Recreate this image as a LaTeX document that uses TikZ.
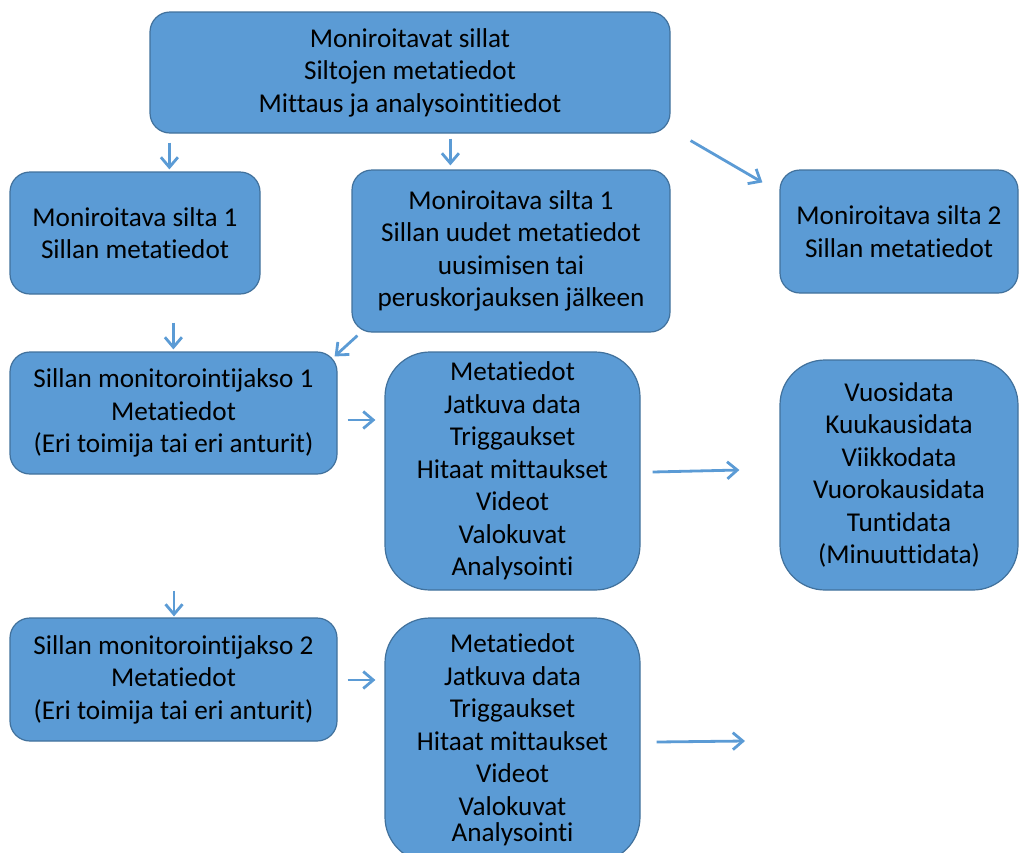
\documentclass[tikz,border=0pt]{standalone}
\usepackage{fontspec}
\setmainfont{Carlito}[Ligatures=NoCommon, RawFeature={-clig}]
\usetikzlibrary{arrows.meta,calc}
\definecolor{boxblue}{HTML}{5B9BD5}
\definecolor{boxedge}{HTML}{41719C}

\begin{document}
\begin{tikzpicture}[x=1pt,y=-1pt,
  box/.style={draw=boxedge, line width=1.2pt, fill=boxblue, rounded corners=20pt,
    align=center, inner sep=0pt, font=\fontsize{27.2}{32.5}\selectfont},
  tall/.style={box, rounded corners=45pt},
  arr/.style={draw=boxblue, line width=2.8pt,
    -{Straight Barb[length=10pt,width=17pt,line width=2.8pt]}}]

\useasboundingbox (0,0) rectangle (1020,852);
\clip (0,0) rectangle (1020,852);

% boxes
\node[box, minimum width=520pt, minimum height=121pt] (top) at (410,72.5)
  {Moniroitavat sillat\\Siltojen metatiedot\\Mittaus ja analysointitiedot};
\node[box, minimum width=250pt, minimum height=122pt] (s1) at (135,233)
  {Moniroitava silta 1\\Sillan metatiedot};
\node[box, minimum width=318pt, minimum height=162pt] (s1n) at (511,251)
  {Moniroitava silta 1\\Sillan uudet metatiedot\\uusimisen tai\\peruskorjauksen jälkeen};
\node[box, minimum width=238pt, minimum height=123pt] (s2) at (899,231.5)
  {Moniroitava silta 2\\Sillan metatiedot};
\node[box, minimum width=327pt, minimum height=122pt] (m1) at (173.5,413)
  {Sillan monitorointijakso 1\\Metatiedot\\(Eri toimija tai eri anturit)};
\node[tall, minimum width=255pt, minimum height=238pt] (d1) at (512.5,471)
  {Metatiedot\\Jatkuva data\\Triggaukset\\Hitaat mittaukset\\Videot\\Valokuvat\\Analysointi};
\node[tall, minimum width=238pt, minimum height=230pt] (y) at (899,475)
  {Vuosidata\\Kuukausidata\\Viikkodata\\Vuorokausidata\\Tuntidata\\(Minuuttidata)};
\node[box, minimum width=327pt, minimum height=123pt] (m2) at (173.5,679.5)
  {Sillan monitorointijakso 2\\Metatiedot\\(Eri toimija tai eri anturit)};
\node[tall, minimum width=255pt, minimum height=244pt] (d2) at (512.5,740)
  {Metatiedot\\Jatkuva data\\Triggaukset\\Hitaat mittaukset\\Videot\\Valokuvat\\[-6pt]Analysointi};

\coordinate (d2end) at (745,741);

% connectors
\draw[arr] ($(top.south west)+(20,9)$) -- ($(s1.north west)+(160,-2)$);
\draw[arr] ($(top.south west)+(301,5)$) -- ($(s1n.north west)+(99,-4)$);
\draw[arr] ($(top.south east)+(20,7)$) -- ($(s2.north west)+(-17,13)$);
\draw[arr] ($(s1.south west)+(164,28)$) -- ($(m1.north west)+(164,-2)$);
\draw[arr] ($(s1n.south west)+(6,3)$) -- ($(m1.north east)+(-3,5)$);
\draw[arr] ($(m1.east)+(10,7)$) -- ($(d1.west)+(-9,-51)$);
\draw[arr] ($(d1.east)+(12,1)$) -- ($(y.west)+(-40,-5)$);
\draw[arr] ($(m1.south)+(0.5,116)$) -- ($(m2.north)+(0.5,-1)$);
\draw[arr] ($(m2.east)+(10,0.5)$) -- ($(d2.west)+(-9,-60)$);
\draw[arr] ($(d2.east)+(16,2)$) -- (d2end);
\end{tikzpicture}
\end{document}
